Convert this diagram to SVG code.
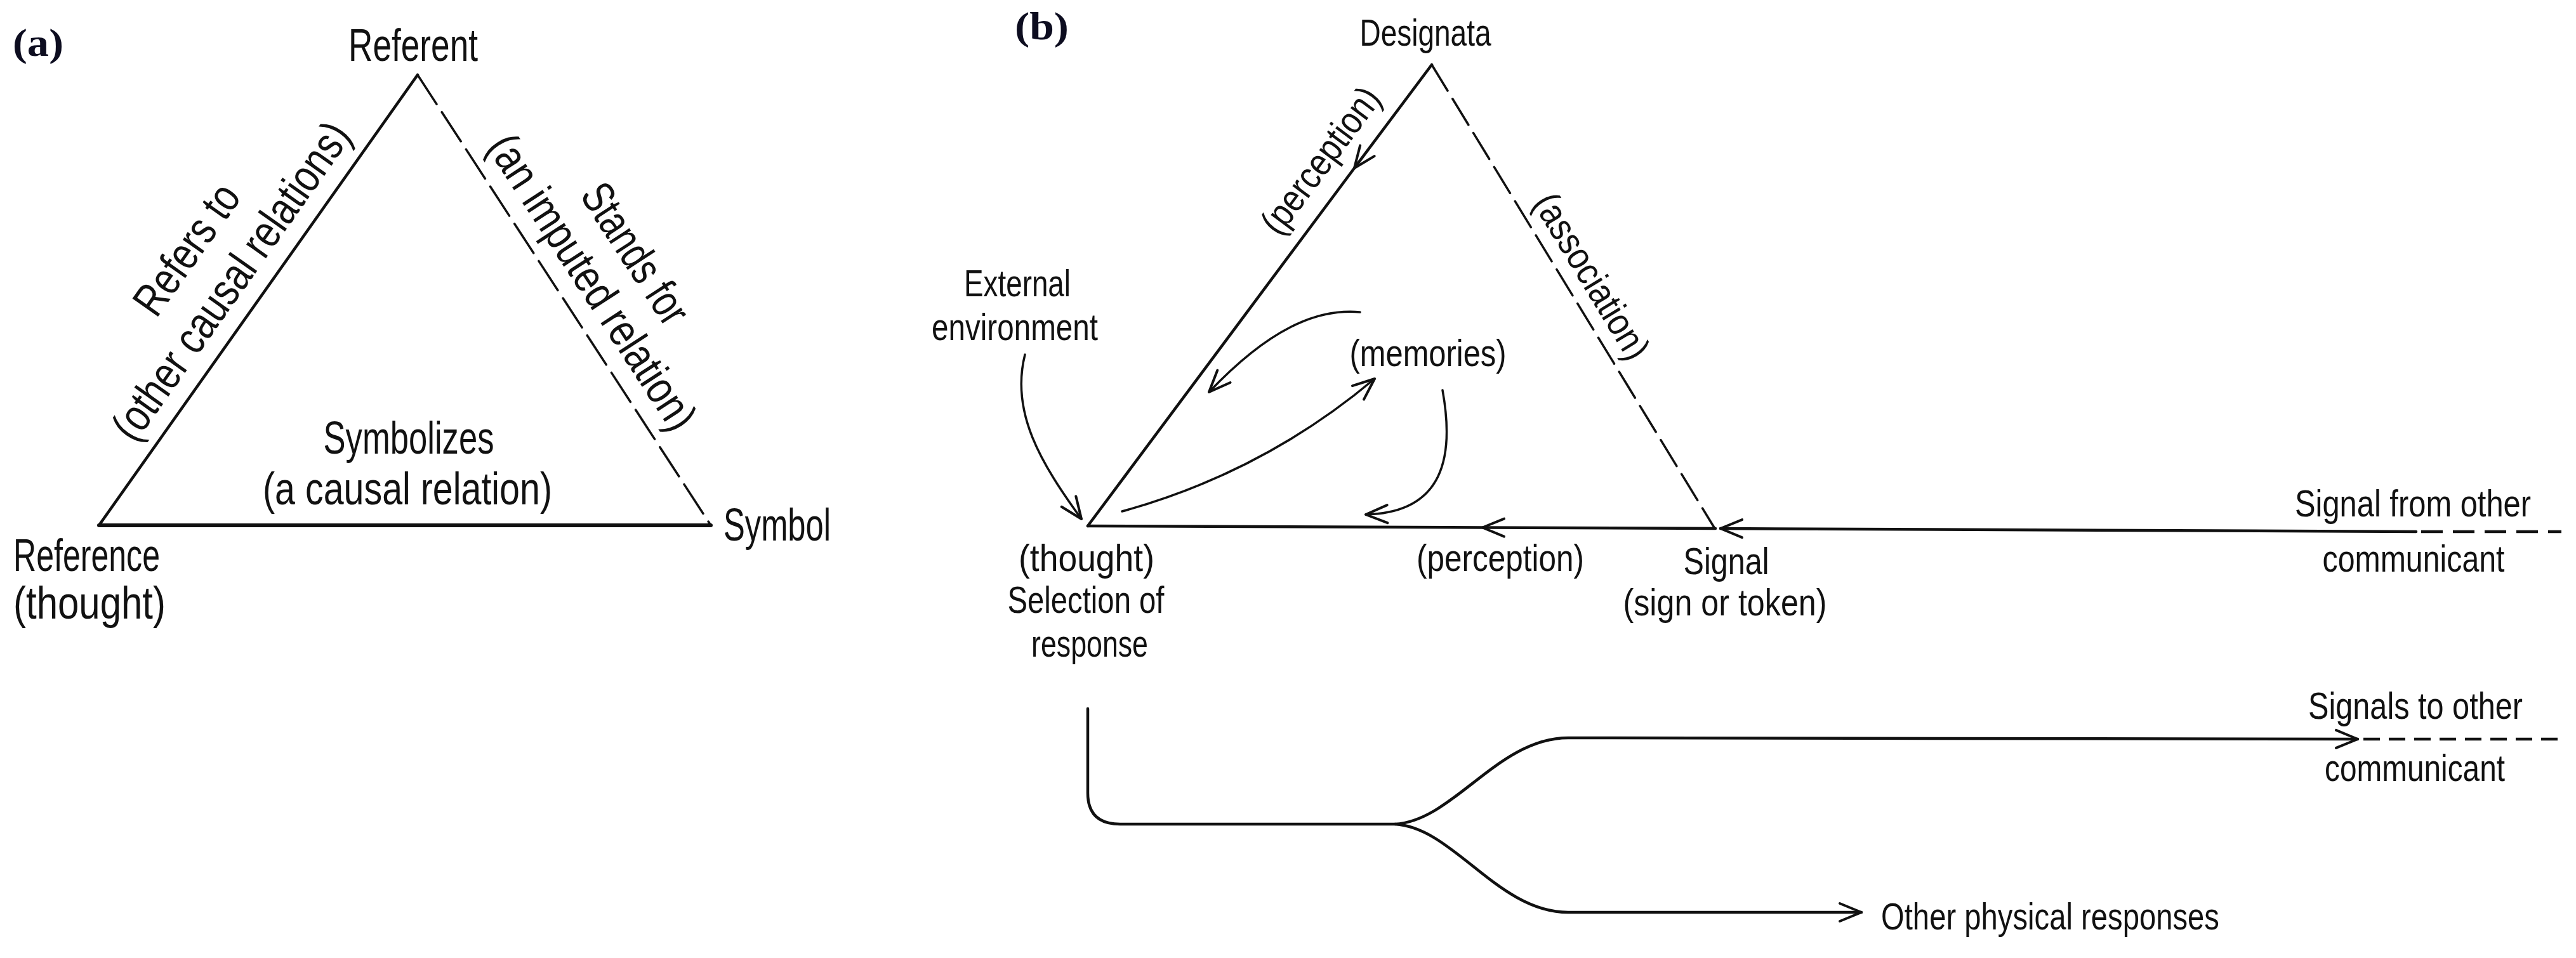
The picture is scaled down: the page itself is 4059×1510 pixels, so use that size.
<svg xmlns="http://www.w3.org/2000/svg" width="4059" height="1510" viewBox="0 0 4059 1510">
<style>
text{font-family:"Liberation Sans Narrow","Liberation Sans",Arial,sans-serif;fill:#111}
.a{font-size:72px}
.b{font-size:60px}
.tag{font-family:"Liberation Serif","Times New Roman",serif;font-weight:bold;font-size:62px;fill:#0d0d20}
.ln{stroke:#111;fill:none;stroke-linecap:round;stroke-linejoin:round}
.thin{stroke-width:3.5}
.mid{stroke-width:4.5}
.thick{stroke-width:6}
.dash{stroke-dasharray:55 15}
.dashb{stroke-dasharray:48 15}
.dashr{stroke-dasharray:34 16;stroke-linecap:butt}
.dashs{stroke-dasharray:26 14;stroke-linecap:butt}
.arr{marker-end:url(#arrow)}
.arrm{marker-mid:url(#arrow)}
</style>
<defs>
<marker id="arrow" markerUnits="userSpaceOnUse" viewBox="-40 -20 44 40" markerWidth="44" markerHeight="40" refX="0" refY="0" orient="auto">
<path d="M-34,-14 L0,0 L-34,14" fill="none" stroke="#111" stroke-width="4" stroke-linecap="round" stroke-linejoin="round"/>
</marker>
</defs>
<rect x="0" y="0" width="4059" height="1510" fill="#fff"/>

<g id="panel-a-tag"><text class="tag" x="20" y="88" textLength="80" lengthAdjust="spacingAndGlyphs">(a)</text></g>
<g id="panel-b-tag"><text class="tag" x="1599" y="62" textLength="85" lengthAdjust="spacingAndGlyphs">(b)</text></g>

<g id="connectors">
<!-- panel a triangle -->
<line class="ln mid" x1="156" y1="828" x2="658" y2="118"/>
<line class="ln thin dash" x1="658" y1="118" x2="1120" y2="828"/>
<line class="ln thick" x1="156" y1="828" x2="1120" y2="828"/>
<!-- panel b triangle -->
<path class="ln mid arrm" d="M2256,102 L2134,265 L1714,829"/>
<line class="ln thin dashb" x1="2256" y1="102" x2="2702" y2="833"/>
<path class="ln mid arrm" d="M2703,833 L2336,831.5 L1714,829"/>
<!-- signal from other communicant -->
<path class="ln mid arr" d="M3807,838 L2711,833"/>
<line class="ln mid dashr" x1="3815" y1="838" x2="4036" y2="838"/>
<!-- memories loops -->
<path class="ln thin arr" d="M1615,559 C1592,650 1640,730 1704,818"/>
<path class="ln thin arr" d="M2143,492 C2075,486 2000,518 1905,618"/>
<path class="ln thin arr" d="M1768,806 Q1990,745 2166,597"/>
<path class="ln thin arr" d="M2273,615 C2292,720 2275,808 2152,811"/>
<!-- response branches -->
<path class="ln mid arr" d="M1714,1117 L1714,1250 Q1714,1299 1765,1299 L2198,1299 C2290,1294 2360,1163 2471,1163 L3715,1165"/>
<line class="ln mid dashs" x1="3724" y1="1165" x2="4039" y2="1165"/>
<path class="ln mid arr" d="M2198,1299 C2290,1304 2360,1438 2471,1438 L2933,1438"/>
</g>

<g id="node-referent"><text class="a" x="651" y="96" text-anchor="middle" textLength="204" lengthAdjust="spacingAndGlyphs">Referent</text></g>
<g id="node-reference">
<text class="a" x="21" y="900" textLength="231" lengthAdjust="spacingAndGlyphs">Reference</text>
<text class="a" x="21" y="975" textLength="240" lengthAdjust="spacingAndGlyphs">(thought)</text>
</g>
<g id="node-symbol"><text class="a" x="1140" y="852" textLength="169" lengthAdjust="spacingAndGlyphs">Symbol</text></g>
<g id="label-symbolizes">
<text class="a" x="644" y="715" text-anchor="middle" textLength="269" lengthAdjust="spacingAndGlyphs">Symbolizes</text>
<text class="a" x="642" y="795" text-anchor="middle" textLength="456" lengthAdjust="spacingAndGlyphs">(a causal relation)</text>
</g>
<g id="label-refers">
<text class="a" transform="translate(314,407) rotate(-54.76)" text-anchor="middle" textLength="235" lengthAdjust="spacingAndGlyphs">Refers to</text>
<text class="a" transform="translate(384,457) rotate(-54.76)" text-anchor="middle" textLength="595" lengthAdjust="spacingAndGlyphs">(other causal relations)</text>
</g>
<g id="label-stands">
<text class="a" transform="translate(981,413) rotate(56.95)" text-anchor="middle" textLength="250" lengthAdjust="spacingAndGlyphs">Stands for</text>
<text class="a" transform="translate(913,458) rotate(56.95)" text-anchor="middle" textLength="540" lengthAdjust="spacingAndGlyphs">(an imputed relation)</text>
</g>

<g id="node-designata"><text class="b" x="2246" y="72" text-anchor="middle" textLength="207" lengthAdjust="spacingAndGlyphs">Designata</text></g>
<g id="node-external">
<text class="b" x="1603" y="467" text-anchor="middle" textLength="168" lengthAdjust="spacingAndGlyphs">External</text>
<text class="b" x="1599" y="536" text-anchor="middle" textLength="262" lengthAdjust="spacingAndGlyphs">environment</text>
</g>
<g id="node-memories"><text class="b" x="2250" y="577" text-anchor="middle" textLength="247" lengthAdjust="spacingAndGlyphs">(memories)</text></g>
<g id="node-thought">
<text class="b" x="1712" y="900" text-anchor="middle" textLength="214" lengthAdjust="spacingAndGlyphs">(thought)</text>
<text class="b" x="1711" y="966" text-anchor="middle" textLength="247" lengthAdjust="spacingAndGlyphs">Selection of</text>
<text class="b" x="1717" y="1035" text-anchor="middle" textLength="184" lengthAdjust="spacingAndGlyphs">response</text>
</g>
<g id="node-signal">
<text class="b" x="2720" y="905" text-anchor="middle" textLength="135" lengthAdjust="spacingAndGlyphs">Signal</text>
<text class="b" x="2718" y="970" text-anchor="middle" textLength="321" lengthAdjust="spacingAndGlyphs">(sign or token)</text>
</g>
<g id="label-perception-bottom"><text class="b" x="2364" y="900" text-anchor="middle" textLength="264" lengthAdjust="spacingAndGlyphs">(perception)</text></g>
<g id="label-perception-left"><text class="b" transform="translate(2097,265) rotate(-53.3)" text-anchor="middle" textLength="272" lengthAdjust="spacingAndGlyphs">(perception)</text></g>
<g id="label-association"><text class="b" transform="translate(2491,446) rotate(58.7)" text-anchor="middle" textLength="295" lengthAdjust="spacingAndGlyphs">(association)</text></g>
<g id="node-signal-from">
<text class="b" x="3802" y="814" text-anchor="middle" textLength="372" lengthAdjust="spacingAndGlyphs">Signal from other</text>
<text class="b" x="3803" y="901" text-anchor="middle" textLength="287" lengthAdjust="spacingAndGlyphs">communicant</text>
</g>
<g id="node-signals-to">
<text class="b" x="3806" y="1133" text-anchor="middle" textLength="338" lengthAdjust="spacingAndGlyphs">Signals to other</text>
<text class="b" x="3805" y="1231" text-anchor="middle" textLength="284" lengthAdjust="spacingAndGlyphs">communicant</text>
</g>
<g id="node-other-responses"><text class="b" x="2964" y="1465" textLength="533" lengthAdjust="spacingAndGlyphs">Other physical responses</text></g>
</svg>
